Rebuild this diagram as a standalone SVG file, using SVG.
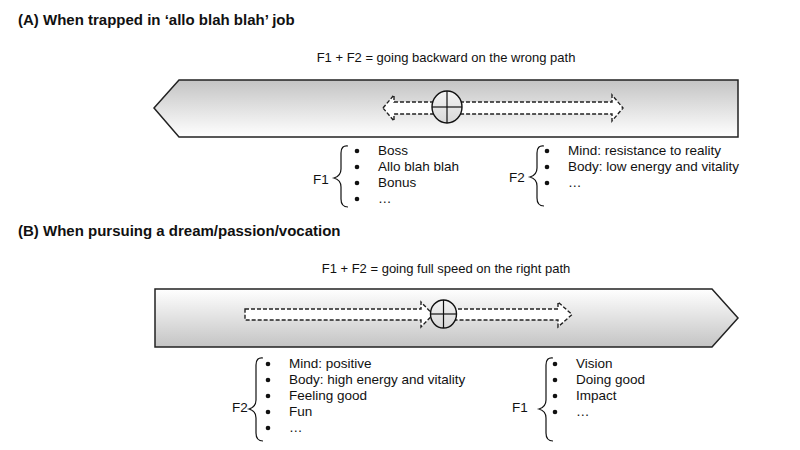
<svg xmlns="http://www.w3.org/2000/svg" width="800" height="450" viewBox="0 0 800 450">
<defs>
<linearGradient id="gA" x1="0" y1="0" x2="0" y2="1">
<stop offset="0" stop-color="#c4c4c4"/><stop offset="1" stop-color="#ffffff"/>
</linearGradient>
<linearGradient id="gB" x1="0" y1="0" x2="0" y2="1">
<stop offset="0" stop-color="#ffffff"/><stop offset="1" stop-color="#c4c4c4"/>
</linearGradient>
<linearGradient id="gC" x1="0" y1="0" x2="0" y2="1">
<stop offset="0" stop-color="#f4f4f4"/><stop offset="1" stop-color="#d8d8d8"/>
</linearGradient>
</defs>
<style>
text{font-family:"Liberation Sans",Arial,sans-serif;font-size:13.5px;fill:#111}
.title{font-size:15px;font-weight:bold}
.sub{font-size:13px}
.band{stroke:#222;stroke-width:1.5}
.arrow{fill:#fff;stroke:#222;stroke-width:1.4;stroke-dasharray:4 2}
.circ{fill:url(#gC);stroke:#111;stroke-width:1.4}
.cross{stroke:#111;stroke-width:1.2}
.brace{fill:none;stroke:#111;stroke-width:1.2}
.dot{fill:#111}
</style>
<rect width="800" height="450" fill="#fff"/>

<g id="sectionA">
<text class="title" x="18" y="25">(A) When trapped in ‘allo blah blah’ job</text>
<text class="sub" x="446" y="62" text-anchor="middle">F1 + F2 = going backward on the wrong path</text>
</g>
<g id="bandA">
<polygon class="band" fill="url(#gA)" points="154,108 179,80 738,80 738,137 179,137"/>
</g>
<g id="sectionB">
<text class="title" x="18" y="236">(B) When pursuing a dream/passion/vocation</text>
<text class="sub" x="446" y="273" text-anchor="middle">F1 + F2 = going full speed on the right path</text>
</g>
<g id="bandB">
<polygon class="band" fill="url(#gB)" points="155,289 712,289 738,318 712,347 155,347"/>
</g>

<g id="connectors">
<polygon class="arrow" points="383,108 394,95 394,102 612,102 612,95 623,108 612,121 612,114 394,114 394,121"/>
<polygon class="arrow" points="245,309 421,309 421,302 433,314.5 421,327 421,320 245,320"/>
<path class="arrow" d="M452,309 L558,309 L558,302 L572,314.5 L558,327 L558,320 L452,320"/>
</g>
<g id="circleA">
<ellipse class="circ" cx="447" cy="107" rx="15" ry="16"/>
<line class="cross" x1="432" y1="107" x2="462" y2="107"/>
<line class="cross" x1="447" y1="91" x2="447" y2="123"/>
</g>
<g id="circleB">
<ellipse class="circ" cx="443.5" cy="314" rx="13" ry="14"/>
<line class="cross" x1="430.5" y1="314" x2="456.5" y2="314"/>
<line class="cross" x1="443.5" y1="300" x2="443.5" y2="328"/>
</g>

<g id="listA1">
<text x="313" y="184">F1</text>
<path class="brace" d="M348,146 Q341,145 341,153 L341,169 Q341,176 334,178 Q341,180 341,187 L341,199 Q341,207 348,207"/>
<circle class="dot" cx="357" cy="151" r="2.3"/><text x="378" y="155">Boss</text>
<circle class="dot" cx="357" cy="167" r="2.3"/><text x="378" y="171">Allo blah blah</text>
<circle class="dot" cx="357" cy="183" r="2.3"/><text x="378" y="187">Bonus</text>
<circle class="dot" cx="357" cy="199" r="2.3"/><text x="378" y="203">…</text>
</g>
<g id="listA2">
<text x="509" y="182">F2</text>
<path class="brace" d="M544,146 Q537,145 537,153 L537,168 Q537,175 530,177 Q537,179 537,186 L537,198 Q537,206 544,206"/>
<circle class="dot" cx="547" cy="151" r="2.3"/><text x="568" y="155">Mind: resistance to reality</text>
<circle class="dot" cx="547" cy="167" r="2.3"/><text x="568" y="171">Body: low energy and vitality</text>
<circle class="dot" cx="547" cy="183" r="2.3"/><text x="568" y="187">…</text>
</g>

<g id="listB2">
<text x="232" y="412">F2</text>
<path class="brace" d="M263,358 Q256,357 256,365 L256,400 Q256,407 249,409 Q256,411 256,418 L256,433 Q256,441 263,441"/>
<circle class="dot" cx="268" cy="364" r="2.3"/><text x="289" y="368">Mind: positive</text>
<circle class="dot" cx="268" cy="380" r="2.3"/><text x="289" y="384">Body: high energy and vitality</text>
<circle class="dot" cx="268" cy="396" r="2.3"/><text x="289" y="400">Feeling good</text>
<circle class="dot" cx="268" cy="412" r="2.3"/><text x="289" y="416">Fun</text>
<circle class="dot" cx="268" cy="428" r="2.3"/><text x="289" y="432">…</text>
</g>
<g id="listB1">
<text x="512" y="412">F1</text>
<path class="brace" d="M553,358 Q546,357 546,365 L546,400 Q546,407 539,409 Q546,411 546,418 L546,433 Q546,441 553,441"/>
<circle class="dot" cx="555" cy="364" r="2.3"/><text x="576" y="368">Vision</text>
<circle class="dot" cx="555" cy="380" r="2.3"/><text x="576" y="384">Doing good</text>
<circle class="dot" cx="555" cy="396" r="2.3"/><text x="576" y="400">Impact</text>
<circle class="dot" cx="555" cy="412" r="2.3"/><text x="576" y="416">…</text>
</g>
</svg>
